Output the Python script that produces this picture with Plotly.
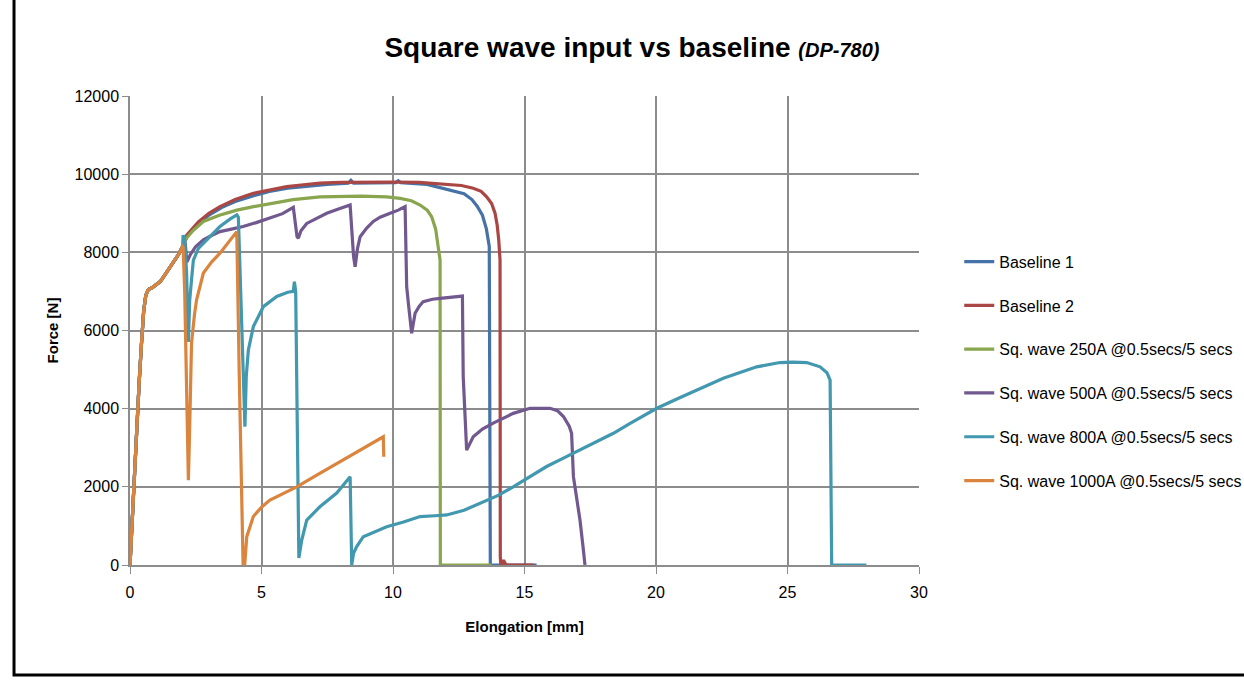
import plotly.graph_objects as go

# shared initial elastic rise (mm, N)
INIT_X = [0.0, 0.05, 0.1, 0.18, 0.27, 0.35, 0.44, 0.52, 0.6, 0.7, 0.85, 1.0, 1.15, 1.3, 1.5, 1.7, 1.85, 2.0]
INIT_Y = [0, 700, 1500, 2700, 3900, 4700, 5700, 6500, 6900, 7050, 7100, 7180, 7250, 7400, 7600, 7800, 7950, 8150]

B1_X = [2.2, 2.6, 3.0, 3.5, 4.0, 4.7, 5.3, 6.0, 6.8, 7.5, 8.3, 8.4, 8.5, 9.5, 10.1, 10.2, 10.3, 11.3, 11.8, 12.3, 12.7, 13.0, 13.2, 13.4, 13.55, 13.66, 13.68, 13.7, 14.5, 15.46]
B1_Y = [8450, 8750, 8950, 9150, 9300, 9450, 9560, 9640, 9700, 9740, 9770, 9840, 9770, 9780, 9780, 9830, 9780, 9740, 9650, 9580, 9500, 9350, 9180, 8950, 8600, 8150, 3000, 0, 0, 0]

B2_X = [2.16, 2.6, 3.0, 3.42, 4.0, 4.69, 5.3, 5.96, 6.6, 7.22, 8.0, 9.0, 10.0, 11.0, 12.04, 12.6, 13.05, 13.35, 13.56, 13.75, 13.88, 13.96, 14.02, 14.07, 14.08, 14.1, 14.2, 14.3, 15.34]
B2_Y = [8440, 8780, 9000, 9170, 9350, 9510, 9600, 9680, 9730, 9770, 9790, 9800, 9800, 9790, 9750, 9710, 9640, 9560, 9420, 9250, 9000, 8700, 8320, 7800, 200, 0, 120, 0, 0]

SQ250_X = [2.09, 2.4, 2.79, 3.4, 4.06, 4.7, 5.32, 6.2, 7.22, 8.0, 8.8, 9.76, 10.27, 10.7, 11.03, 11.3, 11.47, 11.62, 11.72, 11.79, 11.8, 12.5, 13.0, 13.75]
SQ250_Y = [8320, 8560, 8790, 8950, 9080, 9170, 9250, 9350, 9420, 9430, 9440, 9420, 9380, 9320, 9210, 9080, 8910, 8600, 8140, 7800, 0, 0, 0, 0]

SQ500_X = [2.1, 2.16, 2.3, 2.5, 2.79, 3.1, 3.42, 3.9, 4.3, 4.8, 5.32, 5.8, 6.21, 6.28, 6.35, 6.4, 6.5, 6.72, 7.1, 7.48, 7.9, 8.37, 8.42, 8.5, 8.56, 8.65, 8.75, 9.0, 9.25, 9.51, 9.89, 10.2, 10.46, 10.52, 10.6, 10.71, 10.84, 11.0, 11.15, 11.5, 11.79, 12.2, 12.61, 12.64, 12.67, 12.75, 12.8, 13.05, 13.4, 13.81, 14.2, 14.57, 15.21, 15.6, 15.97, 16.25, 16.48, 16.7, 16.79, 16.86, 17.0, 17.11, 17.22, 17.3]
SQ500_Y = [8250, 7750, 7950, 8150, 8320, 8430, 8530, 8600, 8660, 8760, 8870, 8990, 9150, 8800, 8400, 8360, 8550, 8740, 8880, 9000, 9100, 9210, 8700, 7900, 7630, 8100, 8400, 8620, 8790, 8900, 9000, 9080, 9170, 7120, 6600, 5930, 6440, 6620, 6740, 6800, 6820, 6850, 6870, 6880, 4820, 3600, 2940, 3280, 3480, 3630, 3770, 3880, 4010, 4020, 4010, 3950, 3800, 3550, 3370, 2260, 1700, 1150, 500, 0]

SQ800_X = [2.02, 2.08, 2.15, 2.22, 2.27, 2.34, 2.41, 2.6, 2.91, 3.42, 3.8, 4.06, 4.12, 4.2, 4.3, 4.37, 4.42, 4.5, 4.69, 5.07, 5.58, 6.0, 6.21, 6.25, 6.3, 6.34, 6.42, 6.53, 6.72, 7.22, 7.86, 8.37, 8.4, 8.43, 8.5, 8.62, 8.87, 9.3, 9.76, 10.4, 11.03, 11.6, 12.04, 12.7, 13.31, 14.0, 14.57, 15.2, 15.84, 16.5, 17.11, 17.7, 18.38, 19.0, 19.65, 20.03, 20.9, 21.7, 22.56, 23.83, 24.71, 25.2, 25.73, 26.24, 26.5, 26.62, 26.66, 26.68, 27.3, 28.0]
SQ800_Y = [8440, 8300, 7500, 5710, 6780, 7300, 7800, 8100, 8320, 8660, 8850, 8960, 8900, 7000, 4500, 3540, 4820, 5500, 6100, 6610, 6870, 6980, 7000, 7250, 7000, 4000, 180, 640, 1150, 1490, 1840, 2260, 1200, 0, 300, 470, 725, 850, 980, 1100, 1240, 1260, 1280, 1400, 1580, 1780, 2000, 2250, 2520, 2740, 2940, 3150, 3370, 3620, 3880, 4010, 4280, 4520, 4780, 5070, 5180, 5190, 5180, 5070, 4920, 4730, 2000, 0, 0, 0]

SQ1000_X = [2.02, 2.08, 2.15, 2.22, 2.27, 2.34, 2.45, 2.53, 2.79, 3.1, 3.42, 3.75, 4.06, 4.15, 4.25, 4.3, 4.36, 4.44, 4.69, 5.0, 5.32, 5.8, 6.34, 7.1, 7.86, 8.7, 9.63, 9.65]
SQ1000_Y = [8130, 7000, 4500, 2170, 3530, 5680, 6400, 6780, 7470, 7750, 7980, 8250, 8530, 5000, 1500, 0, 0, 725, 1240, 1480, 1660, 1830, 2000, 2300, 2600, 2930, 3280, 2770]

NAMES = ["Baseline 1", "Baseline 2", "Sq. wave 250A @0.5secs/5 secs", "Sq. wave 500A @0.5secs/5 secs",
         "Sq. wave 800A @0.5secs/5 secs", "Sq. wave 1000A @0.5secs/5 secs"]
COLORS = ["#4572A7", "#AA4643", "#89A54E", "#71588F", "#4198AF", "#DB843D"]
SERIES = [(B1_X, B1_Y), (B2_X, B2_Y), (SQ250_X, SQ250_Y), (SQ500_X, SQ500_Y), (SQ800_X, SQ800_Y), (SQ1000_X, SQ1000_Y)]

FONT = "Liberation Sans Narrow, Arial Narrow, Liberation Sans, sans-serif"

fig = go.Figure()
for i, ((xs, ys), name, col) in enumerate(zip(SERIES, NAMES, COLORS)):
    fig.add_trace(go.Scatter(x=INIT_X + xs, y=INIT_Y + ys, mode="lines", name=name,
                             legendgroup=str(i),
                             line=dict(color=col, width=3.2)))

grid = "#8c8c8c"
fig.update_layout(
    width=1244, height=691,
    margin=dict(l=130, r=325, t=96, b=126, autoexpand=False),
    paper_bgcolor="white", plot_bgcolor="white",
    font=dict(family=FONT, size=15, color="black"),
    title=dict(text="<b>Square wave input vs baseline </b><b><i><span style='font-size:20px'>(DP-780)</span></i></b>",
               x=0.508, xanchor="center", y=0.932, yanchor="middle", xref="container", yref="container",
               font=dict(family=FONT, size=28, color="black")),
    xaxis=dict(range=[0, 30], dtick=5, tick0=0, showgrid=True, gridcolor=grid, gridwidth=1.5,
               showline=True, linecolor=grid, linewidth=1.5, ticks="outside", ticklen=7, tickcolor=grid,
               zeroline=False, tickfont=dict(size=16), ticklabelstandoff=5,
               title=dict(text="<b>Elongation [mm]</b>", font=dict(size=15), standoff=22)),
    yaxis=dict(range=[0, 12000], dtick=2000, tick0=0, showgrid=True, gridcolor=grid, gridwidth=1.5,
               showline=True, linecolor=grid, linewidth=1.5, ticks="outside", ticklen=6, tickcolor=grid,
               zeroline=False, tickfont=dict(size=16), tickformat="d",
               title=dict(text="<b>Force [N]</b>", font=dict(size=15), standoff=12)),
    legend=dict(x=1.051, y=0.683, xanchor="left", yanchor="top", font=dict(size=16),
                tracegroupgap=20, bgcolor="rgba(0,0,0,0)"),
    showlegend=True,
)
# outer frame of the chart object
fig.add_shape(type="rect", xref="paper", yref="paper", x0=-0.147, x1=1.6, y0=-0.2345, y1=1.4,
              line=dict(color="black", width=3), fillcolor="rgba(0,0,0,0)", layer="below")
fig.write_html("out.html")
